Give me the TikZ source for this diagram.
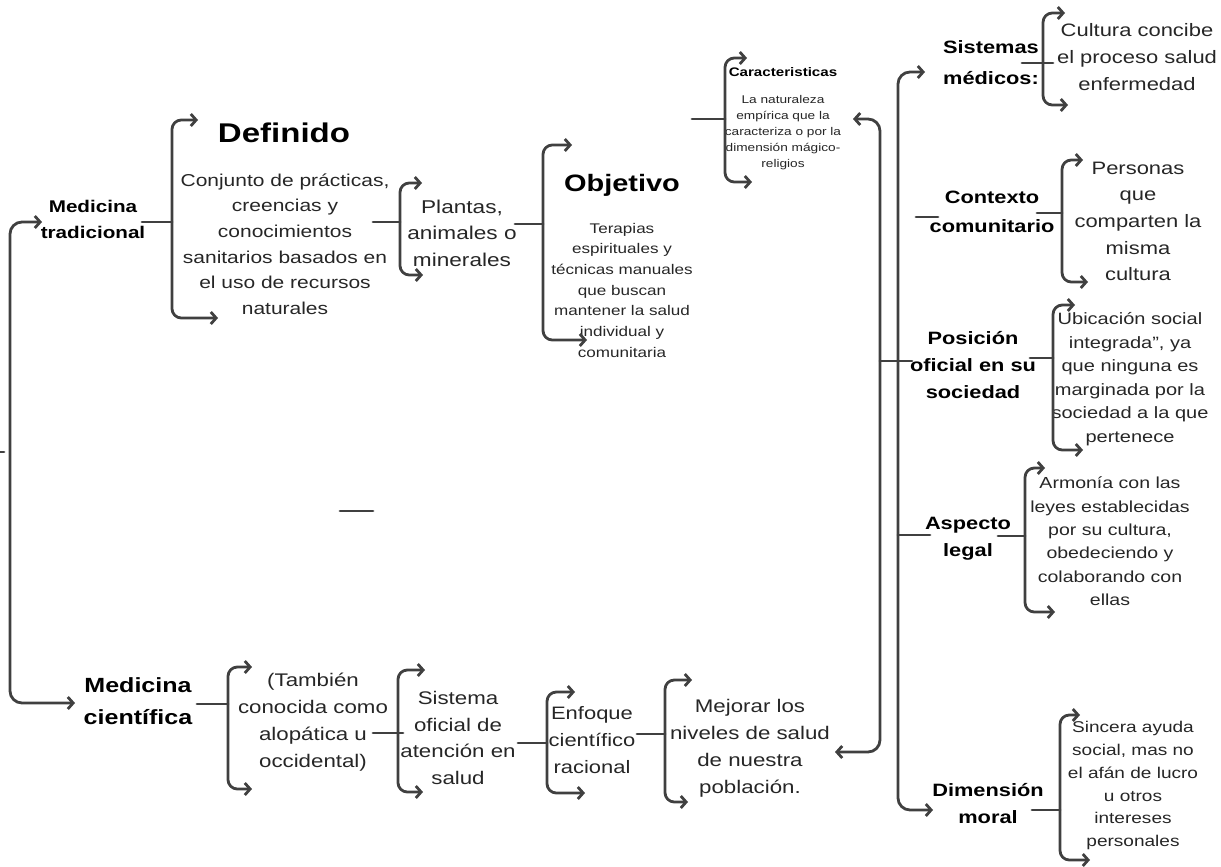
\documentclass[tikz,border=0pt]{standalone}
\usepackage{fontspec}
\setmainfont{Liberation Sans}[FakeStretch=1.22]
\usetikzlibrary{arrows.meta}
\begin{document}
\begin{tikzpicture}[x=.75pt, y=-.75pt, line width=2.1pt, line cap=round, line join=round, draw=black!75,
	>={Straight Barb[length=4pt,width=9pt]},
	txt/.style 2 args={align=center, inner sep=0pt, text=black!85, font=\fontsize{#1}{#2}\selectfont},
	tit/.style 2 args={align=center, inner sep=0pt, text=black, font=\fontsize{#1}{#2}\selectfont\bfseries}]
	\def\llave(#1,#2,#3,#4,#5){\draw[<->, rounded corners=7pt] (#4,#2) -| (#1,#3) -- (#5,#3);}
	\useasboundingbox (0,0) rectangle (1221,867);
	% medicina tradicional
	\node[tit={12.7}{19.5}] (medtrad) at (93,219) {Medicina\\tradicional};
	\node[tit={20.3}{24}] (definido) at (284,133) {Definido};
	\node[txt={12.9}{19.2}] (conjunto) at (285,244) {Conjunto de prácticas,\\creencias y\\conocimientos\\sanitarios basados en\\el uso de recursos\\naturales};
	\node[txt={13.9}{19.9}] (plantas) at (462,233) {Plantas,\\animales o\\minerales};
	\node[tit={17.8}{22}] (objetivo) at (622,185) {Objetivo};
	\node[txt={10.5}{15.5}] (terapias) at (622,290) {Terapias\\espirituales y\\técnicas manuales\\que buscan\\mantener la salud\\individual y\\comunitaria};
	\node[tit={9.3}{12}] (caract) at (783,72) {Caracteristicas};
	\node[txt={8.4}{12}] (naturaleza) at (783,132.5) {La naturaleza\\empírica que la\\caracteriza o por la\\dimensión mágico-\\religios};
	\llave(172,120,318,198,218)
	\llave(400,183,275,422,423)
	\llave(543,145,340,572,587)
	\llave(725,58,182,747,752)
	\draw (142,222) -- (172,222) (373,222) -- (400,222) (515,224) -- (543,224) (692,119) -- (725,119);
	% columna derecha
	\node[tit={13.4}{23.25}] (sistemas) at (991,62.5) {Sistemas\\médicos:};
	\node[txt={13.5}{20}] (cultura) at (1137,57) {Cultura concibe\\el proceso salud\\enfermedad};
	\node[tit={13.4}{21.75}] (contexto) at (992,211.5) {Contexto\\comunitario};
	\node[txt={13.5}{20}] (personas) at (1138,221.5) {Personas\\que\\comparten la\\misma\\cultura};
	\node[tit={13.4}{20.25}] (posicion) at (973,365) {Posición\\oficial en su\\sociedad};
	\node[txt={12.3}{17.6}] (ubicacion) at (1130,379) {Ubicación social\\integrada”, ya\\que ninguna es\\marginada por la\\sociedad a la que\\pertenece};
	\node[tit={13.4}{20.25}] (aspecto) at (968,538.5) {Aspecto\\legal};
	\node[txt={12}{17.5}] (armonia) at (1110,541.5) {Armonía con las\\leyes establecidas\\por su cultura,\\obedeciendo y\\colaborando con\\ellas};
	\node[tit={13.4}{20.25}] (dimension) at (988,803.5) {Dimensión\\moral};
	\node[txt={11.7}{17.2}] (sincera) at (1133,785.5) {Sincera ayuda\\social, mas no\\el afán de lucro\\u otros\\intereses\\personales};
	\llave(1043,13,105,1065,1068)
	\llave(1062,160,282,1083,1088)
	\llave(1053,305,450,1075,1083)
	\llave(1025,468,612,1045,1055)
	\llave(1060,715,860,1080,1090)
	\draw (1022,63) -- (1053,63) (1037,213) -- (1062,213) (1030,358) -- (1053,358)
		(998,536) -- (1025,536) (1032,810) -- (1060,810);
	\draw[<->, rounded corners=9pt] (853,119) -| (880,752) -- (835,752);
	\draw[<->, rounded corners=9pt] (925,72) -| (898,810) -- (933,810);
	\draw (880,361) -- (912,361) (916,217) -- (938,217) (898,535) -- (930,535);
	% medicina cientifica
	\node[tit={15.4}{24}] (medcien) at (138,701) {Medicina\\científica};
	\node[txt={13.7}{20.3}] (tambien) at (313,722.5) {(También\\conocida como\\alopática u\\occidental)};
	\node[txt={13.7}{20}] (sistema) at (458,738) {Sistema\\oficial de\\atención en\\salud};
	\node[txt={13.5}{20}] (enfoque) at (592,740) {Enfoque\\científico\\racional};
	\node[txt={13.7}{20.3}] (mejorar) at (750,748) {Mejorar los\\niveles de salud\\de nuestra\\población.};
	\llave(228,667,789,252,252)
	\llave(398,670,792,425,423)
	\llave(547,692,793,575,585)
	\llave(665,680,802,692,688)
	\draw (197,704) -- (228,704) (373,733) -- (403,733) (518,743) -- (547,743) (637,734) -- (665,734);
	\draw[<->, rounded corners=9pt] (42,222) -| (10,703) -- (75,703);
	\draw (340,511) -- (373,511) (0,452) -- (4,452);
\end{tikzpicture}
\end{document}
